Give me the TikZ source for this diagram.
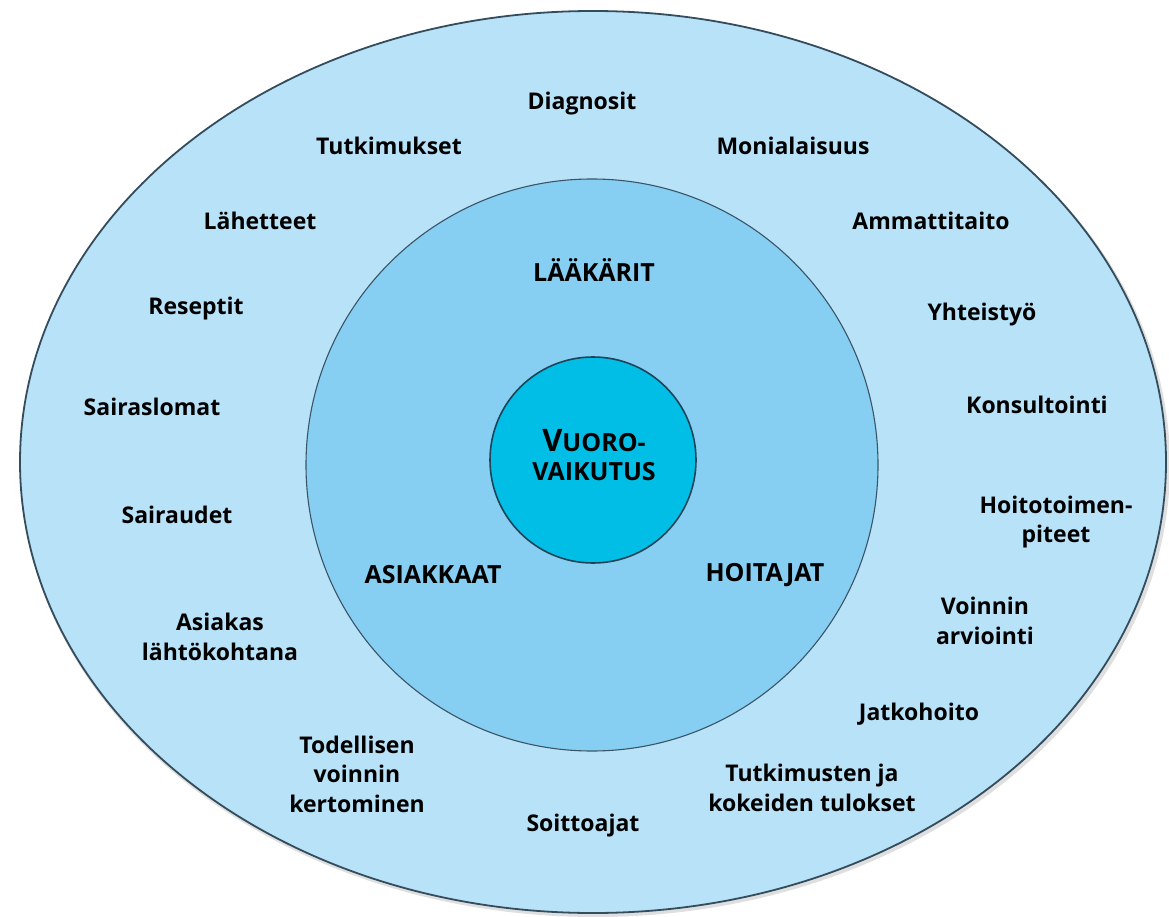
\documentclass[tikz,border=0pt]{standalone}
\usepackage{fontspec}
\setmainfont{Open Sans}
\definecolor{outerfill}{HTML}{B7E2F8}
\definecolor{midfill}{HTML}{87CEF3}
\definecolor{innerfill}{HTML}{00BEE6}
\definecolor{ringline}{HTML}{3A5566}
\definecolor{innerline}{HTML}{1F4458}
\tikzset{
  lbl/.style={font=\fontsize{23}{29.5}\selectfont\bfseries, text=black, inner sep=0pt, align=center, anchor=base},
  mlbl/.style={font=\fontsize{23}{29.5}\selectfont\bfseries, text=black, inner sep=0pt, align=center, anchor=center},
  caplbl/.style={font=\fontsize{25}{29.5}\selectfont\bfseries, text=black, inner sep=0pt, align=center, anchor=base},
}
\begin{document}
\begin{tikzpicture}[x=1pt,y=-1pt]
\useasboundingbox (0,0) rectangle (1169,917);
% rings
\fill[gray!25] (595,465) ellipse [x radius=575, y radius=452];
\filldraw[fill=outerfill, draw=ringline!90!black, line width=1.8pt] (593,462) ellipse [x radius=573, y radius=451];
\filldraw[fill=midfill, draw=ringline, line width=1.1pt] (592,465) circle [radius=286];
\filldraw[fill=innerfill, draw=innerline, line width=1.6pt] (593,460) circle [radius=103];
% centre
\node[caplbl, anchor=center] (vuoro) at (594,455) {{\fontsize{31}{31}\selectfont V}UORO-\\VAIKUTUS};
% middle ring
\node[caplbl] (laakarit) at (594,281) {LÄÄKÄRIT};
\node[caplbl] (asiakkaat) at (433,583) {ASIAKKAAT};
\node[caplbl] (hoitajat) at (765,581) {HOITAJAT};
% outer ring
\node[lbl] (diagnosit) at (582,110) {Diagnosit};
\node[lbl] (tutkimukset) at (389,155) {Tutkimukset};
\node[lbl] (monialaisuus) at (793,155) {Monialaisuus};
\node[lbl] (lahetteet) at (260,230) {Lähetteet};
\node[lbl] (ammattitaito) at (931,230) {Ammattitaito};
\node[lbl] (reseptit) at (196,314) {Reseptit};
\node[lbl] (yhteistyo) at (982,320) {Yhteistyö};
\node[lbl] (sairaslomat) at (152,415) {Sairaslomat};
\node[lbl] (konsultointi) at (1037,413) {Konsultointi};
\node[mlbl] (hoitotoimen) at (1056,522) {Hoitotoimen-\\piteet};
\node[lbl] (sairaudet) at (177,523) {Sairaudet};
\node[mlbl] (asiakas) at (220,637) {Asiakas\\lähtökohtana};
\node[mlbl] (voinnin) at (985,621) {Voinnin\\arviointi};
\node[lbl] (jatkohoito) at (919,720) {Jatkohoito};
\node[mlbl] (todellisen) at (357,774) {Todellisen\\voinnin\\kertominen};
\node[mlbl] (tutkimusten) at (812,788) {Tutkimusten ja\\kokeiden tulokset};
\node[lbl] (soittoajat) at (583,831) {Soittoajat};
\end{tikzpicture}
\end{document}
